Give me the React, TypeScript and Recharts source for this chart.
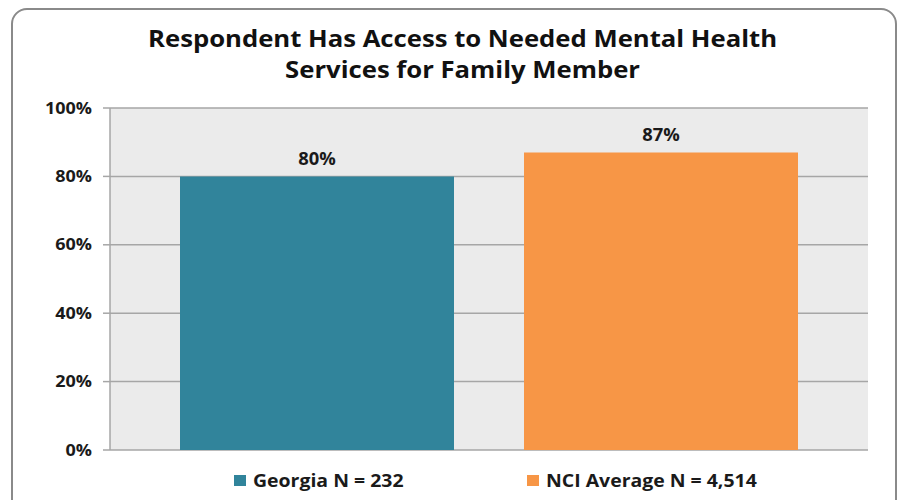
import { BarChart, Bar, XAxis, YAxis, CartesianGrid, Legend, LabelList } from "recharts";

const categories = ["Access"];
const georgia = [80];
const nciAverage = [87];
const yTicks = [0, 20, 40, 60, 80, 100];
const seriesNames = ["Georgia N = 232", "NCI Average N = 4,514"];
const seriesColors = ["#31849b", "#f79646"];
const titleLines = [
  "Respondent Has Access to Needed Mental Health",
  "Services for Family Member",
];

const FONT = "'Open Sans', sans-serif";
const INK = "#1a1a1a";

const data = categories.map((c, i) => ({
  name: c,
  georgia: georgia[i],
  nci: nciAverage[i],
}));

// the source picture is a bit stretched sideways, so text gets a small scaleX
function YTick(props: any) {
  const { x, y, payload } = props;
  return (
    <g transform={`translate(${x},${y}) scale(1.16,1)`}>
      <text x={0} y={0} dy="0.355em" textAnchor="end" fontFamily={FONT} fontWeight={700} fontSize={15.5} fill={INK}>
        {`${payload.value}%`}
      </text>
    </g>
  );
}

function TopLabel(props: any) {
  const { x, y, width, value } = props;
  return (
    <g transform={`translate(${x + width / 2},${y - 11}) scale(1.08,1)`}>
      <text x={0} y={0} textAnchor="middle" fontFamily={FONT} fontWeight={700} fontSize={17} fill={INK}>
        {`${value}%`}
      </text>
    </g>
  );
}

function LegendContent() {
  return (
    <div style={{ display: "flex", alignItems: "center", fontFamily: FONT, fontWeight: 700, fontSize: 18, color: INK, whiteSpace: "nowrap" }}>
      {seriesNames.map((n, i) => (
        <div key={n} style={{ display: "flex", alignItems: "center", width: i === 0 ? 293 : 260 }}>
          <span style={{ display: "inline-block", width: 12, height: 11, background: seriesColors[i], marginRight: 7 }} />
          <span style={{ display: "inline-block", transform: "scaleX(1.08)", transformOrigin: "left center" }}>{n}</span>
        </div>
      ))}
    </div>
  );
}

export default function App() {
  return (
    <div style={{ position: "absolute", left: 0, top: 0, width: 905, height: 500, overflow: "hidden", background: "#fff" }}>
      <div
        style={{
          position: "absolute",
          left: 11,
          top: 8,
          width: 886,
          height: 530,
          border: "2px solid #8a8a8a",
          borderRadius: 16,
          boxSizing: "border-box",
        }}
      />
      <div
        style={{
          position: "absolute",
          left: 0,
          top: 22,
          width: 925,
          textAlign: "center",
          fontFamily: FONT,
          fontWeight: 700,
          fontSize: 24,
          lineHeight: "31px",
          color: "#111",
          transform: "scaleX(1.07)",
          transformOrigin: "462px 0",
        }}
      >
        {titleLines.map((t) => (
          <div key={t}>{t}</div>
        ))}
      </div>
      <div style={{ position: "absolute", left: 0, top: 0 }}>
        <BarChart
          width={905}
          height={500}
          data={data}
          margin={{ top: 108, right: 37, bottom: 26, left: 50 }}
          barCategoryGap={70}
          barGap={70}
        >
          <CartesianGrid vertical={false} fill="#ebebeb" stroke="#a6a6a6" strokeWidth={1.5} />
          <XAxis dataKey="name" tick={false} height={0} axisLine={{ stroke: "#a6a6a6", strokeWidth: 1.5 }} tickLine={false} />
          <YAxis
            width={60}
            domain={[0, 100]}
            ticks={yTicks}
            tick={<YTick />}
            tickSize={7}
            tickMargin={11}
            axisLine={{ stroke: "#a6a6a6", strokeWidth: 1.5 }}
            tickLine={{ stroke: "#a6a6a6", strokeWidth: 1.5 }}
          />
          <Legend
            content={() => <LegendContent />}
            wrapperStyle={{ left: 234, top: 468, width: "auto" }}
          />
          <Bar dataKey="georgia" fill={seriesColors[0]} isAnimationActive={false}>
            <LabelList dataKey="georgia" content={<TopLabel />} />
          </Bar>
          <Bar dataKey="nci" fill={seriesColors[1]} isAnimationActive={false}>
            <LabelList dataKey="nci" content={<TopLabel />} />
          </Bar>
        </BarChart>
      </div>
    </div>
  );
}
